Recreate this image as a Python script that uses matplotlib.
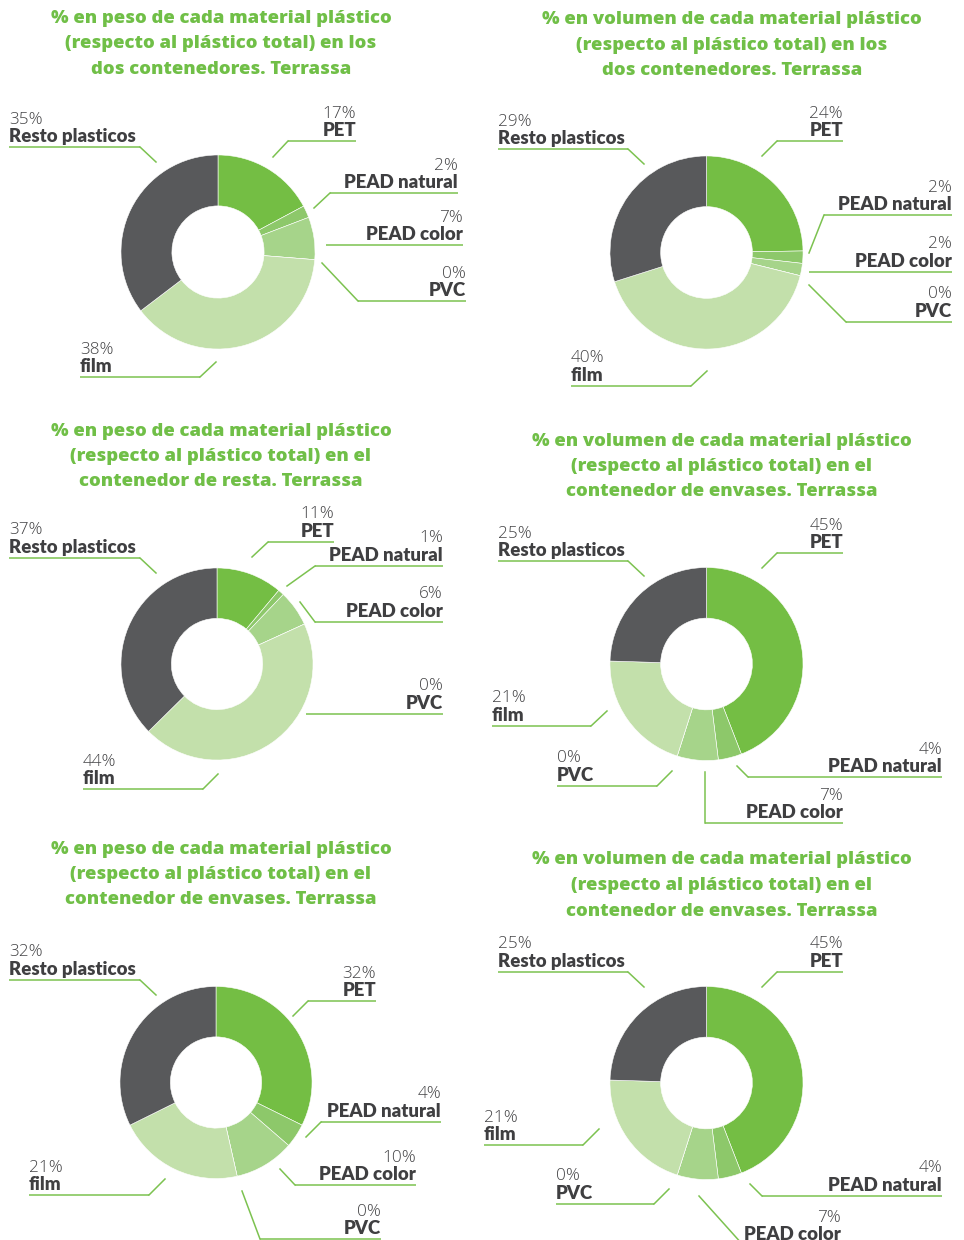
import matplotlib.pyplot as plt

plt.rcParams['font.family'] = ['Lato', 'DejaVu Sans']

# Materiales, en el orden en que se dibujan (sentido horario desde arriba)
categories = ["PET", "PEAD natural", "PEAD color", "PVC", "film", "Resto plasticos"]

peso_total = [17, 2, 7, 0, 38, 35]
volumen_total = [24, 2, 2, 0, 40, 29]
peso_resta = [11, 1, 6, 0, 44, 37]
volumen_envases = [45, 4, 7, 0, 21, 25]
peso_envases = [32, 4, 10, 0, 21, 32]

titles = [
    ["% en peso de cada material plástico", "(respecto al plástico total) en los", "dos contenedores. Terrassa"],
    ["% en volumen de cada material plástico", "(respecto al plástico total) en los", "dos contenedores. Terrassa"],
    ["% en peso de cada material plástico", "(respecto al plástico total) en el", "contenedor de resta. Terrassa"],
    ["% en volumen de cada material plástico", "(respecto al plástico total) en el", "contenedor de envases. Terrassa"],
    ["% en peso de cada material plástico", "(respecto al plástico total) en el", "contenedor de envases. Terrassa"],
    ["% en volumen de cada material plástico", "(respecto al plástico total) en el", "contenedor de envases. Terrassa"],
]
series = [peso_total, volumen_total, peso_resta, volumen_envases, peso_envases, volumen_envases]

colors = ["#74BE44", "#8DC86A", "#A6D48A", "#B5DA9D", "#C3E0AB", "#58595B"]
GREEN = "#70BF47"
LINE = "#7CC250"
W, H = 964, 1240

# Posicion de cada grafico en pixeles: centro del donut, radio, centro x del titulo, linea base del titulo
panels = [
    dict(cx=218, cy=252, r=98, tx=221, ty=23),
    dict(cx=706.5, cy=252.5, r=97.5, tx=732, ty=24),
    dict(cx=217, cy=664, r=97, tx=221, ty=435.5),
    dict(cx=706.5, cy=664, r=97.5, tx=721.5, ty=445.5),
    dict(cx=216, cy=1082.5, r=97, tx=221, ty=853.5),
    dict(cx=706.5, cy=1083, r=97.5, tx=721.5, ty=864.5),
]

# Etiquetas: (lado del texto, x0 y x1 del subrayado, y del subrayado, punta de la guia)
label_layout = [
    {"PET": ("R", 288, 356, 141, (273, 157)),
     "PEAD natural": ("R", 330, 458, 193, (314, 208)),
     "PEAD color": ("R", 326, 463, 245, None),
     "PVC": ("R", 358, 466, 301, (322, 263)),
     "film": ("L", 80, 200, 377, (216, 362)),
     "Resto plasticos": ("L", 9, 140, 147, (156, 162))},
    {"PET": ("R", 777, 843, 141, (762, 156)),
     "PEAD natural": ("R", 824, 952, 215, (809, 253)),
     "PEAD color": ("R", 809, 952, 272, None),
     "PVC": ("R", 846, 952, 322, (809, 285)),
     "film": ("L", 571, 691, 386, (707, 371)),
     "Resto plasticos": ("L", 498, 628, 149, (644, 164))},
    {"PET": ("R", 268, 334, 542, (252, 557)),
     "PEAD natural": ("R", 315, 443, 566, (287, 586)),
     "PEAD color": ("R", 315, 443, 622, (300, 602)),
     "PVC": ("R", 306, 443, 714, None),
     "film": ("L", 83, 203, 789, (218, 774)),
     "Resto plasticos": ("L", 9, 140, 558, (156, 573))},
    {"PET": ("R", 777, 843, 553, (762, 568)),
     "PEAD natural": ("R", 748, 942, 777, (737, 766)),
     "PEAD color": ("R", 705, 843, 823, (705, 772)),
     "PVC": ("L", 557, 657, 786, (672, 771)),
     "film": ("L", 492, 591, 726, (607, 711)),
     "Resto plasticos": ("L", 498, 628, 561, (644, 576))},
    {"PET": ("R", 308, 376, 1001, (293, 1016)),
     "PEAD natural": ("R", 321, 441, 1122, (306, 1137)),
     "PEAD color": ("R", 295, 416, 1185, (280, 1169)),
     "PVC": ("R", 260, 381, 1239, (242, 1191)),
     "film": ("L", 29, 149, 1195, (165, 1179)),
     "Resto plasticos": ("L", 9, 140, 980, (156, 995))},
    {"PET": ("R", 777, 843, 972, (762, 987)),
     "PEAD natural": ("R", 762, 942, 1196, (750, 1184)),
     "PEAD color": ("R", 743, 841, 1245, (699, 1196)),
     "PVC": ("L", 556, 654, 1204, (669, 1189)),
     "film": ("L", 484, 583, 1145, (599, 1129)),
     "Resto plasticos": ("L", 498, 628, 972, (644, 987))},
]

fig = plt.figure(figsize=(W / 100, H / 100), dpi=100)
fig.patch.set_facecolor("white")

# capa en coordenadas de pixel para titulos, etiquetas y guias
overlay = fig.add_axes([0, 0, 1, 1], zorder=0)
overlay.set_xlim(0, W)
overlay.set_ylim(H, 0)
overlay.axis("off")

for p, values, title, layout in zip(panels, series, titles, label_layout):
    cx, cy, r = p["cx"], p["cy"], p["r"]
    ax = fig.add_axes([(cx - r) / W, 1 - (cy + r) / H, 2 * r / W, 2 * r / H], zorder=1)
    ax.pie(values, colors=colors, startangle=90, counterclock=False, radius=1,
           wedgeprops=dict(width=0.525, edgecolor="white", linewidth=0.4))
    ax.set_xlim(-1.01, 1.01)
    ax.set_ylim(-1.01, 1.01)

    for i, line in enumerate(title):
        overlay.text(p["tx"], p["ty"] + i * 25.5, line, ha="center", va="baseline",
                     fontsize=13.3, fontweight="heavy", color=GREEN,
                     family=["Open Sans", "DejaVu Sans"])

    for name, value in zip(categories, values):
        side, x0, x1, uy, tip = layout[name]
        overlay.plot([x0, x1], [uy, uy], color=LINE, lw=1.1, solid_capstyle="butt")
        if tip is not None:
            ex = x1 if side == "L" else x0
            overlay.plot([ex, tip[0]], [uy, tip[1]], color=LINE, lw=1.1)
        tx = x0 if side == "L" else x1
        ha = "left" if side == "L" else "right"
        overlay.text(tx, uy - 23.5, f"{value}%", ha=ha, va="baseline",
                     fontsize=12.3, fontweight="light", color="#444446",
                     family=["Open Sans", "DejaVu Sans"])
        overlay.text(tx, uy - 5, name, ha=ha, va="baseline",
                     fontsize=13.4, fontweight="heavy", color="#3F3F41")

fig.savefig("out.png", dpi=100)
